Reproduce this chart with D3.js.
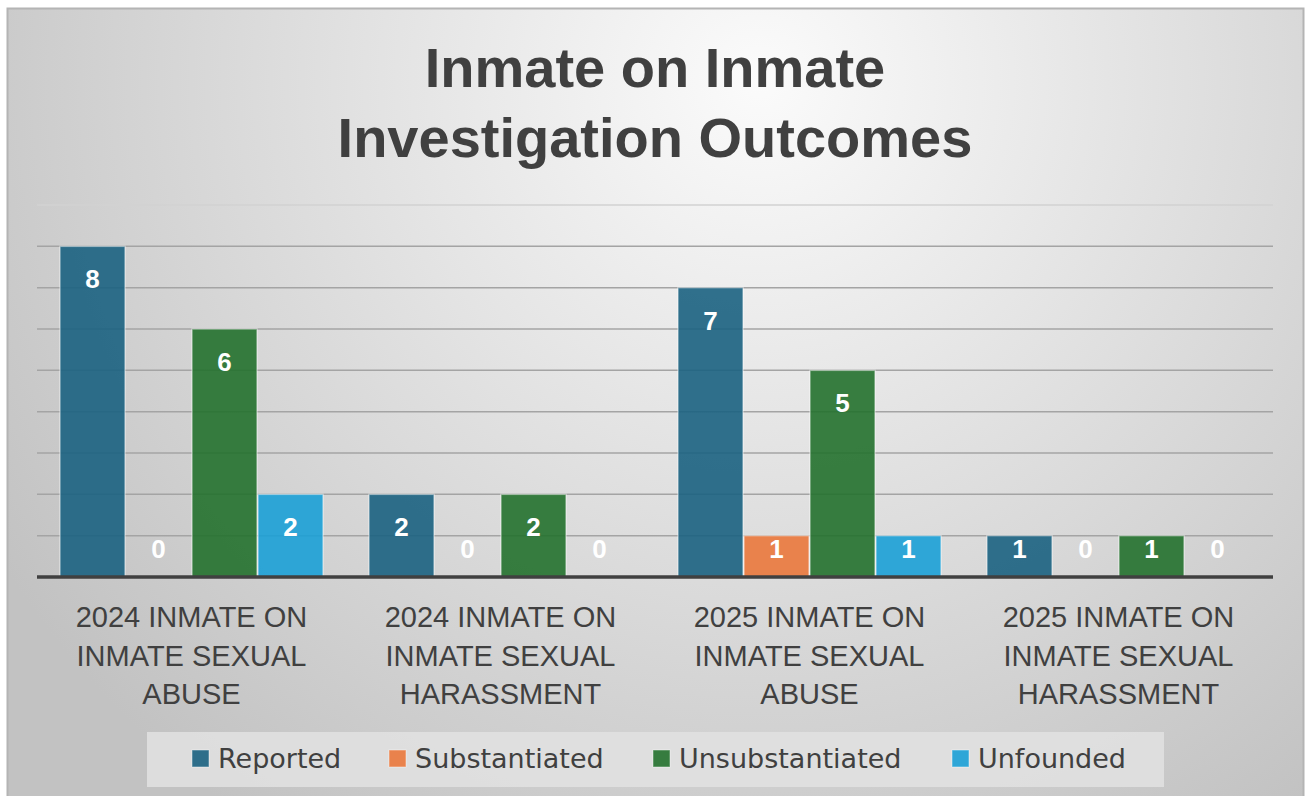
<!DOCTYPE html>
<html>
<head>
<meta charset="utf-8">
<script src="https://cdn.jsdelivr.net/npm/d3@7"></script>
<style>
  body { margin: 0; background: #fff; }
  svg { display: block; }
</style>
</head>
<body>
<div id="chart"></div>
<script>
var categories = [
  ['2024 INMATE ON', 'INMATE SEXUAL', 'ABUSE'],
  ['2024 INMATE ON', 'INMATE SEXUAL', 'HARASSMENT'],
  ['2025 INMATE ON', 'INMATE SEXUAL', 'ABUSE'],
  ['2025 INMATE ON', 'INMATE SEXUAL', 'HARASSMENT']
]
var seriesNames = ['Reported', 'Substantiated', 'Unsubstantiated', 'Unfounded']
var seriesColors = ['#1b6281', '#ea783c', '#24712e', '#1ba0d6']
var reported = [8, 2, 7, 1]
var substantiated = [0, 0, 1, 0]
var unsubstantiated = [6, 2, 5, 1]
var unfounded = [2, 0, 1, 0]
var gridTicks = [1, 2, 3, 4, 5, 6, 7, 8, 9]

var seriesValues = [reported, substantiated, unsubstantiated, unfounded]

var W = 1308, H = 796
var svg = d3.select('#chart').append('svg').attr('width', W).attr('height', H)

var defs = svg.append('defs')
var grad = defs.append('radialGradient').attr('id', 'bg')
  .attr('gradientUnits', 'userSpaceOnUse')
  .attr('cx', 760).attr('cy', 80).attr('r', 900)
grad.append('stop').attr('offset', '0%').attr('stop-color', '#fbfbfb')
grad.append('stop').attr('offset', '100%').attr('stop-color', '#c2c2c2')

svg.append('rect').attr('x', 0).attr('y', 0).attr('width', W).attr('height', H).attr('fill', '#fff')
svg.append('rect').attr('x', 7.5).attr('y', 8.5).attr('width', 1296).attr('height', 790)
  .attr('fill', 'url(#bg)').attr('stroke', '#b4b4b4').attr('stroke-width', 2)

// title
var title = svg.append('text').attr('text-anchor', 'middle')
  .attr('font-family', 'Liberation Sans, Arial, sans-serif').attr('font-weight', 'bold')
  .attr('font-size', 56).attr('fill', '#404040')
title.append('tspan').attr('x', 655).attr('y', 87).text('Inmate on Inmate')
title.append('tspan').attr('x', 655).attr('y', 157).text('Investigation Outcomes')

var x0 = d3.scaleBand().domain(d3.range(categories.length)).range([37, 1273])
  .paddingInner(0.1456).paddingOuter(0.0728)
var x1 = d3.scaleBand().domain(d3.range(seriesNames.length)).range([0, x0.bandwidth()])
var y = d3.scaleLinear().domain([0, 9]).range([577, 205])

// gridlines
svg.append('g').selectAll('line').data(gridTicks).join('line')
  .attr('x1', 37).attr('x2', 1273)
  .attr('y1', function (d) { return y(d) }).attr('y2', function (d) { return y(d) })
  .attr('stroke', function (d) { return d === 9 ? '#d2d2d2' : '#a4a4a4' })
  .attr('stroke-width', 1.5)

// bars
var cells = []
categories.forEach(function (c, i) {
  seriesValues.forEach(function (vals, s) {
    cells.push({ cat: i, s: s, v: vals[i] })
  })
})

var g = svg.append('g')
g.selectAll('rect').data(cells.filter(function (d) { return d.v > 0 })).join('rect')
  .attr('x', function (d) { return x0(d.cat) + x1(d.s) + 0.5 })
  .attr('y', function (d) { return y(d.v) })
  .attr('width', x1.bandwidth() - 1)
  .attr('height', function (d) { return y(0) - y(d.v) })
  .attr('fill', function (d) { return seriesColors[d.s] })
  .attr('fill-opacity', 0.9)
  .attr('stroke', '#ffffff').attr('stroke-opacity', 0.45).attr('stroke-width', 1.5)

// baseline
svg.append('line').attr('x1', 37).attr('x2', 1273).attr('y1', y(0)).attr('y2', y(0))
  .attr('stroke', '#404040').attr('stroke-width', 3.5)

// value labels
g.selectAll('text').data(cells).join('text')
  .attr('x', function (d) { return x0(d.cat) + x1(d.s) + x1.bandwidth() / 2 })
  .attr('y', function (d) { return Math.min(y(d.v) + 33, 549) + 9 })
  .attr('text-anchor', 'middle')
  .attr('font-family', 'Liberation Sans, Arial, sans-serif').attr('font-weight', 'bold')
  .attr('font-size', 26).attr('fill', '#ffffff')
  .text(function (d) { return d.v })

// category labels
var cl = svg.append('g').selectAll('text').data(categories).join('text')
  .attr('text-anchor', 'middle')
  .attr('font-family', 'Liberation Sans, Arial, sans-serif')
  .attr('font-size', 29).attr('fill', '#404040')
cl.each(function (lines, i) {
  var t = d3.select(this)
  lines.forEach(function (ln, k) {
    t.append('tspan').attr('x', x0(i) + x0.bandwidth() / 2).attr('y', 627 + k * 38.5).text(ln)
  })
})

// legend
svg.append('rect').attr('x', 147).attr('y', 732).attr('width', 1017).attr('height', 55)
  .attr('fill', '#e2e2e2').attr('fill-opacity', 0.85)
var legX = [192, 389, 653, 952]
var leg = svg.append('g').selectAll('g').data(seriesNames).join('g')
  .attr('transform', function (d, i) { return 'translate(' + legX[i] + ',750)' })
leg.append('rect').attr('width', 17).attr('height', 17)
  .attr('fill', function (d, i) { return seriesColors[i] }).attr('fill-opacity', 0.9)
  .attr('stroke', '#ffffff').attr('stroke-opacity', 0.45).attr('stroke-width', 1)
leg.append('text').attr('x', 26).attr('y', 18)
  .attr('font-family', 'DejaVu Sans, sans-serif')
  .attr('font-size', 27).attr('fill', '#404040')
  .text(function (d) { return d })
</script>
</body>
</html>
